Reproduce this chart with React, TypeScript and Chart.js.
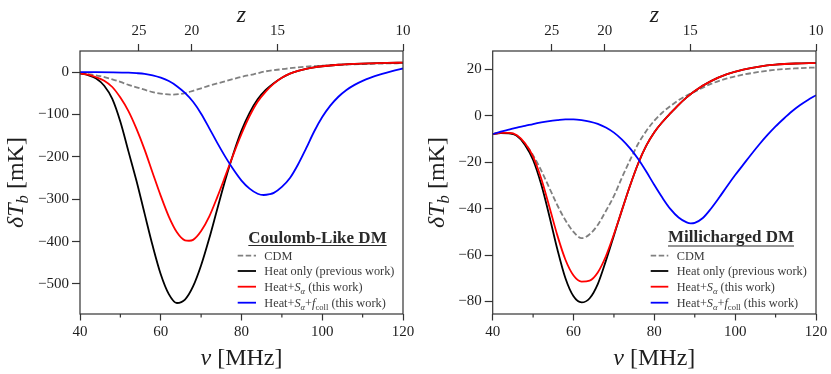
import React, { useEffect, useRef } from "react";
import { Chart, registerables } from "chart.js";

Chart.register(...registerables);

const FONT = "'Liberation Serif', 'Times New Roman', serif";

// ---------------- shared axis values ----------------
const nuTicks = [40, 60, 80, 100, 120];
const nuMinorTicks = [50, 70, 90, 110];
const zTickLabels = ["25", "20", "15", "10"];
const zTickNu = [54.6, 67.7, 88.9, 120];

// ---------------- left panel: Coulomb-like DM ----------------
const coulombTicks = [0, -100, -200, -300, -400, -500];

const coulombCdmNu = [40, 42, 45, 48, 50, 52, 55, 58, 60, 63, 66, 68, 70, 72, 75, 78, 80, 83, 86, 90, 94, 100, 106, 112, 120];
const coulombCdmT = [-3, -4.5, -9.4, -17, -23, -30, -38.5, -47, -50.5, -53, -49.5, -44, -38, -32, -24, -16, -11, -5, 2, 7, 11.5, 15.5, 18, 19.8, 21.3];

const coulombHeatNu = [40, 42, 44, 46, 48, 50, 52, 54, 56, 58, 60, 62, 64, 66, 68, 70, 72, 74, 76, 78, 80, 82, 84, 86, 88, 90, 92, 94, 96, 98, 100, 104, 108, 112, 116, 120];
const coulombHeatT = [-3, -7, -15, -32, -63, -117, -187, -257, -334, -410, -477, -524, -545, -537, -506, -456, -393, -323, -254, -192, -138, -96, -64, -42, -26, -13, -3.5, 3, 8, 11.5, 14, 17.5, 19.5, 20.8, 21.8, 22.5];

const coulombSaNu = [40, 42, 44, 46, 48, 50, 52, 54, 56, 58, 60, 62, 64, 66, 67, 68, 70, 72, 74, 76, 78, 80, 82, 84, 86, 88, 90, 92, 94, 96, 98, 100, 104, 108, 112, 116, 120];
const coulombSaT = [-3, -6, -12, -20, -35, -60, -92, -134, -183, -238, -292, -341, -378, -397, -398, -396, -375, -341, -295, -245, -194, -146, -104, -70, -46, -27, -13, -3.5, 3, 8, 11.5, 14, 17.5, 19.5, 20.8, 21.8, 22.5];

const coulombFcollNu = [40, 44, 48, 52, 54, 56, 58, 60, 62, 64, 66, 68, 70, 72, 74, 76, 78, 80, 82, 84, 85.5, 87, 88, 90, 92, 94, 96, 98, 100, 102, 104, 106, 108, 110, 112, 114, 116, 118, 120];
const coulombFcollT = [0, 0, -0.3, -1.2, -2.3, -4, -7.5, -13, -21, -33, -49, -70, -98, -132, -167, -200, -230, -256, -275, -287, -290, -288, -285, -271, -250, -218, -180, -140, -106, -79, -58, -42, -30, -20.5, -13, -6.5, -1, 4, 8.7];

// ---------------- right panel: Millicharged DM ----------------
const milliTicks = [20, 0, -20, -40, -60, -80];

const milliGridNu = [40, 42, 44, 46, 48, 50, 52, 54, 56, 58, 60, 62, 64, 66, 68, 70, 72, 74, 76, 78, 80, 82, 84, 86, 88, 90, 94, 98, 102, 106, 110, 115, 120];
const milliCdmT = [-7.8, -7.3, -7.3, -8.6, -12, -17, -23.5, -31, -38.5, -45, -50, -52.7, -51, -47, -41, -34.5, -26.5, -19, -12, -6.5, -2, 1.5, 4.3, 6.8, 8.8, 10.5, 13.8, 16.2, 17.8, 19, 19.9, 20.5, 20.9];
const milliHeatT = [-7.8, -7.4, -7.5, -8.6, -12.5, -19, -29.5, -43, -57.5, -70, -77.8, -80.4, -78.6, -72.5, -62.5, -51.5, -40.5, -30, -20.5, -12.8, -7, -2.6, 1.2, 4.8, 8, 10.8, 15, 18, 20, 21.3, 22.1, 22.6, 22.8];
const milliSaT = [-7.8, -7.3, -7.3, -8.3, -11.8, -17.5, -27, -39, -51.5, -62, -68.8, -71.4, -71, -67.5, -60.5, -51, -40.5, -30, -20.5, -12.8, -7, -2.6, 1.2, 4.8, 8, 10.8, 15, 18, 20, 21.3, 22.1, 22.6, 22.8];

const milliFcollNu = [40, 42, 44, 46, 48, 50, 52, 54, 56, 58, 60, 62, 64, 66, 68, 70, 72, 74, 76, 78, 80, 82, 84, 86, 88, 89, 90, 92, 94, 96, 98, 100, 102, 104, 106, 108, 110, 112, 114, 116, 118, 120];
const milliFcollT = [-7.8, -6.8, -5.9, -5, -4.3, -3.5, -2.8, -2.2, -1.8, -1.5, -1.5, -1.8, -2.4, -3.4, -5, -7.2, -10.2, -14, -18.6, -24, -29.8, -35.3, -40.2, -43.8, -45.9, -46.3, -46.1, -44, -40, -35.3, -30.3, -25.5, -21, -16.5, -12.2, -8.2, -4.5, -1.2, 1.9, 4.6, 6.9, 8.9];

// ---------------- legend text ----------------
type Seg = { t: string; it?: boolean; bold?: boolean; sub?: boolean };
const legendCdm: Seg[] = [{ t: "CDM" }];
const legendHeat: Seg[] = [{ t: "Heat only (previous work)" }];
const legendSa: Seg[] = [{ t: "Heat+" }, { t: "S", it: true }, { t: "α", it: true, sub: true }, { t: " (this work)" }];
const legendFcoll: Seg[] = [
  { t: "Heat+" }, { t: "S", it: true }, { t: "α", it: true, sub: true }, { t: "+" },
  { t: "f", it: true }, { t: "coll", sub: true }, { t: " (this work)" },
];
const coulombTitle = "Coulomb-Like DM";
const milliTitle = "Millicharged DM";

const yTitle: Seg[] = [{ t: "δ", it: true }, { t: "T", it: true }, { t: "b", it: true, sub: true }, { t: " [mK]" }];
const xTitle: Seg[] = [{ t: "ν", it: true }, { t: " [MHz]" }];
const zTitle: Seg[] = [{ t: "z", it: true }];

const C_CDM = "#808080";
const C_HEAT = "#000000";
const C_SA = "#ff0000";
const C_FCOLL = "#0000ff";
const AXIS_C = "#333333";
const TEXT_C = "#1e1e1e";

function drawRich(ctx: CanvasRenderingContext2D, segs: Seg[], x: number, y: number, size: number, align: "left" | "center", color: string) {
  const fontFor = (s: Seg) => `${s.it ? "italic " : ""}${s.bold ? "bold " : ""}${s.sub ? size * 0.7 : size}px ${FONT}`;
  let w = 0;
  for (const s of segs) {
    ctx.font = fontFor(s);
    w += ctx.measureText(s.t).width;
  }
  let cx = align === "center" ? x - w / 2 : x;
  ctx.fillStyle = color;
  ctx.textAlign = "left";
  ctx.textBaseline = "alphabetic";
  for (const s of segs) {
    ctx.font = fontFor(s);
    ctx.fillText(s.t, cx, s.sub ? y + size * 0.22 : y);
    cx += ctx.measureText(s.t).width;
  }
  return w;
}

type Panel = {
  padLeft: number;
  padRight: number;
  yMin: number;
  yMax: number;
  yTicks: number[];
  series: { label: string; nu: number[]; T: number[]; color: string; dash?: number[]; order: number }[];
  legendTitle: string;
  legend: { segs: Seg[]; color: string; dash?: number[] }[];
  leg: { hx1: number; hx2: number; tx: number; rows: number[]; titleX: number; titleY: number; ulY: number };
  yTitleX: number;
};

const fmt = (v: number) => (v < 0 ? "\u2212" + Math.abs(v) : String(v));

function decor(panel: Panel) {
  return {
    id: "decor",
    afterDraw(chart: any) {
      const ctx: CanvasRenderingContext2D = chart.ctx;
      const a = chart.chartArea;
      const xs = chart.scales.x;
      ctx.save();
      // frame
      ctx.strokeStyle = AXIS_C;
      ctx.lineWidth = 1.2;
      ctx.strokeRect(a.left, a.top, a.right - a.left, a.bottom - a.top);
      // minor ticks
      ctx.beginPath();
      for (const v of nuMinorTicks) {
        const px = xs.getPixelForValue(v);
        ctx.moveTo(px, a.bottom);
        ctx.lineTo(px, a.bottom + 3.6);
      }
      ctx.stroke();
      // axis titles
      const cxp = (a.left + a.right) / 2;
      const cyp = (a.top + a.bottom) / 2;
      drawRich(ctx, xTitle, cxp, 365, 24, "center", TEXT_C);
      drawRich(ctx, zTitle, cxp, 21.5, 24, "center", TEXT_C);
      ctx.save();
      ctx.translate(panel.yTitleX, cyp);
      ctx.rotate(-Math.PI / 2);
      drawRich(ctx, yTitle, 0, 0, 24, "center", TEXT_C);
      ctx.restore();
      // legend
      const L = panel.leg;
      ctx.font = `bold 17px ${FONT}`;
      ctx.fillStyle = "#2a2a2a";
      ctx.textAlign = "center";
      ctx.textBaseline = "alphabetic";
      ctx.fillText(panel.legendTitle, L.titleX, L.titleY);
      const tw = ctx.measureText(panel.legendTitle).width;
      ctx.strokeStyle = "#2a2a2a";
      ctx.lineWidth = 1.1;
      ctx.beginPath();
      ctx.moveTo(L.titleX - tw / 2, L.ulY);
      ctx.lineTo(L.titleX + tw / 2, L.ulY);
      ctx.stroke();
      panel.legend.forEach((e, i) => {
        const y = L.rows[i];
        ctx.strokeStyle = e.color;
        ctx.lineWidth = 1.8;
        ctx.setLineDash(e.dash || []);
        ctx.beginPath();
        ctx.moveTo(L.hx1, y);
        ctx.lineTo(L.hx2, y);
        ctx.stroke();
        ctx.setLineDash([]);
        drawRich(ctx, e.segs, L.tx, y + 4.2, 12.3, "left", "#3a3a3a");
      });
      ctx.restore();
    },
  };
}

const legendEntries = [
  { segs: legendCdm, color: C_CDM, dash: [5.5, 2.5] },
  { segs: legendHeat, color: C_HEAT },
  { segs: legendSa, color: C_SA },
  { segs: legendFcoll, color: C_FCOLL },
];

const coulombPanel: Panel = {
  padLeft: 0,
  padRight: 428,
  yMin: -571,
  yMax: 50,
  yTicks: coulombTicks,
  series: [
    { label: "CDM", nu: coulombCdmNu, T: coulombCdmT, color: C_CDM, dash: [5.5, 2.5], order: 3 },
    { label: "Heat only (previous work)", nu: coulombHeatNu, T: coulombHeatT, color: C_HEAT, order: 2 },
    { label: "Heat+Sα (this work)", nu: coulombSaNu, T: coulombSaT, color: C_SA, order: 1 },
    { label: "Heat+Sα+fcoll (this work)", nu: coulombFcollNu, T: coulombFcollT, color: C_FCOLL, order: 0 },
  ],
  legendTitle: coulombTitle,
  legend: legendEntries,
  leg: { hx1: 237.7, hx2: 256, tx: 264.3, rows: [255.7, 271, 286.7, 302.7], titleX: 317.5, titleY: 242.7, ulY: 245.5 },
  yTitleX: 23,
};

const milliPanel: Panel = {
  padLeft: 412.7,
  padRight: 15,
  yMin: -85.4,
  yMax: 28,
  yTicks: milliTicks,
  series: [
    { label: "CDM", nu: milliGridNu, T: milliCdmT, color: C_CDM, dash: [5.5, 2.5], order: 3 },
    { label: "Heat only (previous work)", nu: milliGridNu, T: milliHeatT, color: C_HEAT, order: 2 },
    { label: "Heat+Sα (this work)", nu: milliGridNu, T: milliSaT, color: C_SA, order: 1 },
    { label: "Heat+Sα+fcoll (this work)", nu: milliFcollNu, T: milliFcollT, color: C_FCOLL, order: 0 },
  ],
  legendTitle: milliTitle,
  legend: legendEntries,
  leg: { hx1: 650.7, hx2: 668.3, tx: 676.7, rows: [255.7, 271, 286.7, 302.7], titleX: 731, titleY: 242.3, ulY: 246 },
  yTitleX: 444,
};

function buildChart(canvas: HTMLCanvasElement, panel: Panel) {
  const tickFont = { family: FONT, size: 15 };
  return new Chart(canvas, {
    type: "line",
    data: {
      datasets: panel.series.map((s) => ({
        label: s.label,
        data: s.nu.map((x, i) => ({ x, y: s.T[i] })),
        borderColor: s.color,
        borderWidth: 1.8,
        borderDash: s.dash || [],
        pointRadius: 0,
        fill: false,
        cubicInterpolationMode: "monotone",
        order: s.order,
        xAxisID: "x",
        yAxisID: "y",
      })),
    },
    options: {
      responsive: false,
      animation: false,
      devicePixelRatio: 1,
      events: [],
      layout: { padding: { left: panel.padLeft, right: panel.padRight, top: 0, bottom: 0 } },
      plugins: { legend: { display: false }, tooltip: { enabled: false } },
      scales: {
        x: {
          type: "linear",
          axis: "x",
          position: "bottom",
          min: 40,
          max: 120,
          afterBuildTicks: (s: any) => {
            s.ticks = nuTicks.map((v) => ({ value: v }));
          },
          afterFit: (s: any) => {
            s.height = 60;
          },
          ticks: { font: tickFont, color: TEXT_C, padding: 3, maxRotation: 0, autoSkip: false, callback: (v: any) => fmt(v) },
          grid: { drawOnChartArea: false, drawTicks: true, tickLength: 6.5, color: AXIS_C, tickWidth: 1.2 },
          border: { display: false },
        },
        x2: {
          type: "linear",
          axis: "x",
          position: "top",
          min: 40,
          max: 120,
          afterBuildTicks: (s: any) => {
            s.ticks = zTickNu.map((v) => ({ value: v }));
          },
          afterFit: (s: any) => {
            s.height = 51;
          },
          ticks: { font: tickFont, color: TEXT_C, padding: 4, maxRotation: 0, autoSkip: false, callback: (_v: any, i: number) => zTickLabels[i] },
          grid: { drawOnChartArea: false, drawTicks: true, tickLength: 7, color: AXIS_C, tickWidth: 1.2 },
          border: { display: false },
        },
        y: {
          type: "linear",
          position: "left",
          min: panel.yMin,
          max: panel.yMax,
          afterBuildTicks: (s: any) => {
            s.ticks = panel.yTicks.map((v) => ({ value: v }));
          },
          afterFit: (s: any) => {
            s.width = 80;
          },
          ticks: { font: tickFont, color: TEXT_C, padding: 3, autoSkip: false, callback: (v: any) => fmt(v) },
          grid: { drawOnChartArea: false, drawTicks: true, tickLength: 8, color: AXIS_C, tickWidth: 1.2 },
          border: { display: false },
        },
      },
    } as any,
    plugins: [decor(panel)],
  });
}

export default function App() {
  const leftRef = useRef<HTMLCanvasElement>(null);
  const rightRef = useRef<HTMLCanvasElement>(null);
  useEffect(() => {
    const c1 = buildChart(leftRef.current!, coulombPanel);
    const c2 = buildChart(rightRef.current!, milliPanel);
    return () => {
      c1.destroy();
      c2.destroy();
    };
  }, []);
  const cs: React.CSSProperties = { position: "absolute", left: 0, top: 0, width: 831, height: 374 };
  return (
    <div style={{ position: "fixed", left: 0, top: 0, width: 831, height: 374, background: "#fff" }}>
      <canvas ref={leftRef} width={831} height={374} style={cs} />
      <canvas ref={rightRef} width={831} height={374} style={cs} />
    </div>
  );
}
